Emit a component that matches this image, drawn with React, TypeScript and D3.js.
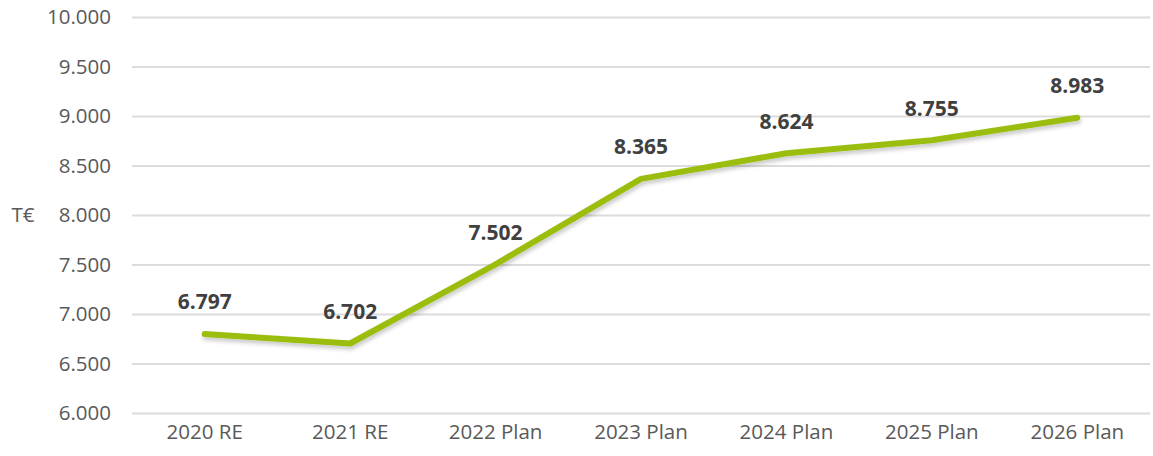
import React, { useEffect, useRef } from "react";
import * as d3 from "d3";

const categories = ["2020 RE", "2021 RE", "2022 Plan", "2023 Plan", "2024 Plan", "2025 Plan", "2026 Plan"];
const values = [6797, 6702, 7502, 8365, 8624, 8755, 8983];
const yTicks = [6000, 6500, 7000, 7500, 8000, 8500, 9000, 9500, 10000];
const unitLabel = "T€";

export default function App() {
  const ref = useRef<SVGSVGElement>(null);

  useEffect(() => {
    const width = 1153;
    const height = 456;
    const margin = { top: 17, left: 132, bottom: 43, right: 3 };
    const iwidth = width - margin.left - margin.right;
    const iheight = height - margin.top - margin.bottom;
    const font = "'Open Sans', sans-serif";
    const fmt = (v: number) => d3.format(",")(v).replace(/,/g, ".");

    const svg = d3.select(ref.current);
    svg.selectAll("*").remove();

    const defs = svg.append("defs");
    const f = defs.append("filter").attr("id", "shadow").attr("x", "-5%").attr("y", "-20%").attr("width", "110%").attr("height", "140%");
    f.append("feDropShadow")
      .attr("dx", 1)
      .attr("dy", 3)
      .attr("stdDeviation", 2)
      .attr("flood-color", "#000")
      .attr("flood-opacity", 0.22);

    const g = svg.append("g").attr("transform", `translate(${margin.left},${margin.top})`);

    const x = d3.scaleBand().domain(categories).range([0, iwidth]);
    const y = d3.scaleLinear().domain([6000, 10000]).range([iheight, 0]);

    // gridlines + y labels
    const yAxis = g.append("g").call(
      d3.axisLeft(y).tickValues(yTicks).tickSize(-iwidth).tickPadding(21).tickFormat((d) => fmt(+d))
    );
    yAxis.select(".domain").remove();
    yAxis.selectAll(".tick line").attr("stroke", "#dcdcdc").attr("stroke-width", 1.8);
    yAxis.selectAll(".tick text")
      .attr("fill", "#595959")
      .style("font-family", font)
      .style("font-size", "20.5px");

    // x labels
    const xAxis = g.append("g")
      .attr("transform", `translate(0,${iheight})`)
      .call(d3.axisBottom(x).tickSize(0).tickPadding(11));
    xAxis.select(".domain").remove();
    xAxis.selectAll(".tick text")
      .attr("fill", "#595959")
      .style("font-family", font)
      .style("font-size", "20.5px");

    svg.append("text")
      .attr("x", 23)
      .attr("y", 215)
      .attr("dy", "0.35em")
      .attr("text-anchor", "middle")
      .attr("fill", "#595959")
      .style("font-family", font)
      .style("font-size", "20.5px")
      .text(unitLabel);

    const cx = (i: number) => (x(categories[i]) as number) + x.bandwidth() / 2;

    const line = d3.line<number>()
      .x((d, i) => cx(i))
      .y((d) => y(d));

    g.append("path")
      .datum(values)
      .attr("d", line)
      .attr("fill", "none")
      .attr("stroke", "#9bbd0f")
      .attr("stroke-width", 6)
      .attr("stroke-linecap", "round")
      .attr("stroke-linejoin", "round")
      .attr("filter", "url(#shadow)");

    // data labels
    g.selectAll(".lbl").data(values).enter().append("text")
      .attr("class", "lbl")
      .attr("x", (d, i) => cx(i))
      .attr("y", (d) => y(d) - 32)
      .attr("text-anchor", "middle")
      .attr("dy", "0.35em")
      .attr("fill", "#404040")
      .style("font-family", font)
      .style("font-weight", "bold")
      .style("font-size", "21px")
      .text((d) => fmt(d));
  }, []);

  return (
    <svg
      ref={ref}
      width={1153}
      height={456}
      style={{ position: "absolute", left: 0, top: 0, background: "#fff" }}
    />
  );
}
